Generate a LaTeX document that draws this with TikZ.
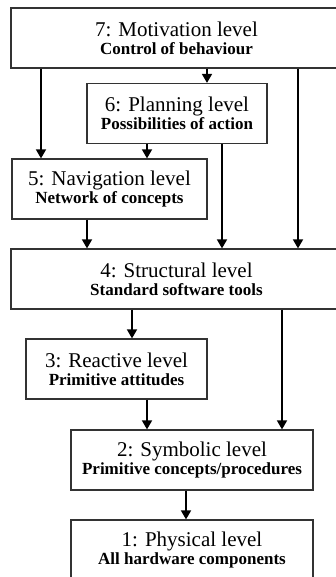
\documentclass[tikz,border=0pt]{standalone}
\usepackage{fontspec}
\setmainfont{Liberation Serif}
\usetikzlibrary{arrows.meta}

\tikzset{
  level/.style={draw=black!80, line width=1.2pt, inner sep=0pt, align=center,
    minimum height=60pt, font=\fontsize{17}{18}\selectfont},
  flow/.style={line width=1.6pt, -{Triangle[length=9pt, width=10pt]}},
}
\newcommand{\lvltitle}[1]{{\fontsize{21}{18}\selectfont #1}}
\newcommand{\lvlsub}[1]{{\fontsize{17}{18}\selectfont\bfseries #1}}

\begin{document}
\begin{tikzpicture}[x=1pt, y=-1pt]
  \useasboundingbox (0,0) rectangle (335,577);
  % levels
  \node[level, minimum width=331pt] (n7) at (176.5, 38) {\lvltitle{7: Motivation level}\\\lvlsub{Control of behaviour}};
  \node[level, minimum width=180pt] (n6) at (177, 113.5) {\lvltitle{6: Planning level}\\\lvlsub{Possibilities of action}};
  \node[level, minimum width=195pt] (n5) at (109.5, 189) {\lvltitle{5: Navigation level}\\\lvlsub{Network of concepts}};
  \node[level, minimum width=331pt] (n4) at (176.5, 279) {\lvltitle{4: Structural level}\\\lvlsub{Standard software tools}};
  \node[level, minimum width=181pt] (n3) at (116.5, 369) {\lvltitle{3: Reactive level}\\\lvlsub{Primitive attitudes}};
  \node[level, minimum width=242pt] (n2) at (192, 460) {\lvltitle{2: Symbolic level}\\\lvlsub{Primitive concepts/procedures}};
  \node[level, minimum width=242pt] (n1) at (192, 550) {\lvltitle{1: Physical level}\\\lvlsub{All hardware components}};
  % connections
  \draw[flow] (n7.south -| 41,0) -- (41,0 |- n5.north);
  \draw[flow] (n7.south -| 207,0) -- (207,0 |- n6.north);
  \draw[flow] (n7.south -| 298,0) -- (298,0 |- n4.north);
  \draw[flow] (n6.south -| 147,0) -- (147,0 |- n5.north);
  \draw[flow] (n6.south -| 222,0) -- (222,0 |- n4.north);
  \draw[flow] (n5.south -| 87,0) -- (87,0 |- n4.north);
  \draw[flow] (n4.south -| 132,0) -- (132,0 |- n3.north);
  \draw[flow] (n4.south -| 282,0) -- (282,0 |- n2.north);
  \draw[flow] (n3.south -| 147,0) -- (147,0 |- n2.north);
  \draw[flow] (n2.south -| 186,0) -- (186,0 |- n1.north);
\end{tikzpicture}
\end{document}
